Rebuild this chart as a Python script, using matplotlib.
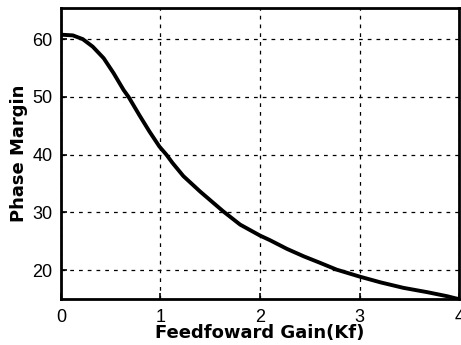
import numpy as np
import matplotlib.pyplot as plt

# phase margin against feedforward gain
kf = [0.0, 0.02, 0.12, 0.22, 0.32, 0.43, 0.53, 0.63, 0.68, 0.79, 0.89, 0.99,
      1.06, 1.12, 1.23, 1.40, 1.63, 1.80, 2.0, 2.10, 2.27, 2.44, 2.60, 2.77,
      3.0, 3.21, 3.44, 3.68, 3.88, 3.96, 4.0]
pm = [60.7, 60.75, 60.65, 60.0, 58.7, 56.7, 54.1, 51.2, 50.0, 46.8, 44.0, 41.4,
      40.0, 38.6, 36.3, 33.6, 30.2, 27.9, 26.0, 25.2, 23.7, 22.4, 21.3, 20.1,
      18.9, 17.9, 16.95, 16.2, 15.5, 15.15, 15.0]

xticks = [0, 1, 2, 3, 4]
yticks = [20, 30, 40, 50, 60]

plt.rcParams['font.family'] = ['Liberation Sans', 'DejaVu Sans']

fig = plt.figure(figsize=(4.61, 3.45), dpi=100)
ax = fig.add_axes([0.132, 0.133, 0.864, 0.844])

ax.plot(kf, pm, color='black', lw=2.8, solid_capstyle='butt', solid_joinstyle='round')

ax.set_xlim(0, 4)
ax.set_ylim(15, 65.4)
ax.set_xticks(xticks)
ax.set_yticks(yticks)
ax.grid(True, color='black', linestyle=(0, (3, 4)), lw=0.9)

ax.tick_params(direction='in', length=4, width=1.2, labelsize=13)
ax.tick_params(axis='x', pad=7)
ax.tick_params(axis='y', pad=6)
for s in ax.spines.values():
    s.set_linewidth(2)

ax.set_xlabel('Feedfoward Gain(Kf)', fontsize=13, fontweight='bold',
              family='DejaVu Sans', labelpad=-1)
ax.set_ylabel('Phase Margin', fontsize=13, fontweight='bold',
              family='DejaVu Sans', labelpad=3)

fig.savefig('out.png', dpi=100)
